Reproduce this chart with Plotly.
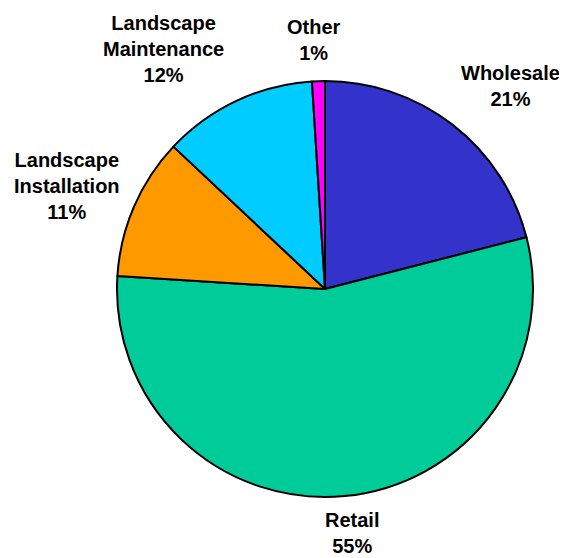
import plotly.graph_objects as go

labels = ["Wholesale", "Retail", "Landscape<br>Installation", "Landscape<br>Maintenance", "Other"]
values = [21, 55, 11, 12, 1]
colors = ["#3333CC", "#00CC99", "#FF9900", "#00CCFF", "#FF00FF"]

# label placement (paper coordinates of the pie domain), layout only
label_pos = [(0.945, 0.988), (0.565, -0.087), (-0.119, 0.748), (0.112, 1.077), (0.474, 1.099)]

fig = go.Figure(go.Pie(
    labels=labels,
    values=values,
    sort=False,
    direction="clockwise",
    rotation=0,
    marker=dict(colors=colors, line=dict(color="black", width=2)),
    textinfo="none",
    showlegend=False,
    hoverinfo="label+percent",
))

total = sum(values)
for lab, val, (px, py) in zip(labels, values, label_pos):
    fig.add_annotation(
        x=px, y=py, xref="paper", yref="paper",
        xanchor="center", yanchor="middle",
        text=f"<b>{lab}<br>{round(100 * val / total)}%</b>",
        showarrow=False,
        font=dict(family="Arial, Liberation Sans, sans-serif", size=20, color="black"),
        align="center",
    )

# the page body has an 8px default margin, so the figure is sized to fit inside
fig.update_layout(
    width=559, height=550,
    margin=dict(l=109, r=34, t=73, b=61),
    paper_bgcolor="white",
    plot_bgcolor="white",
)

fig.write_html("out.html")
